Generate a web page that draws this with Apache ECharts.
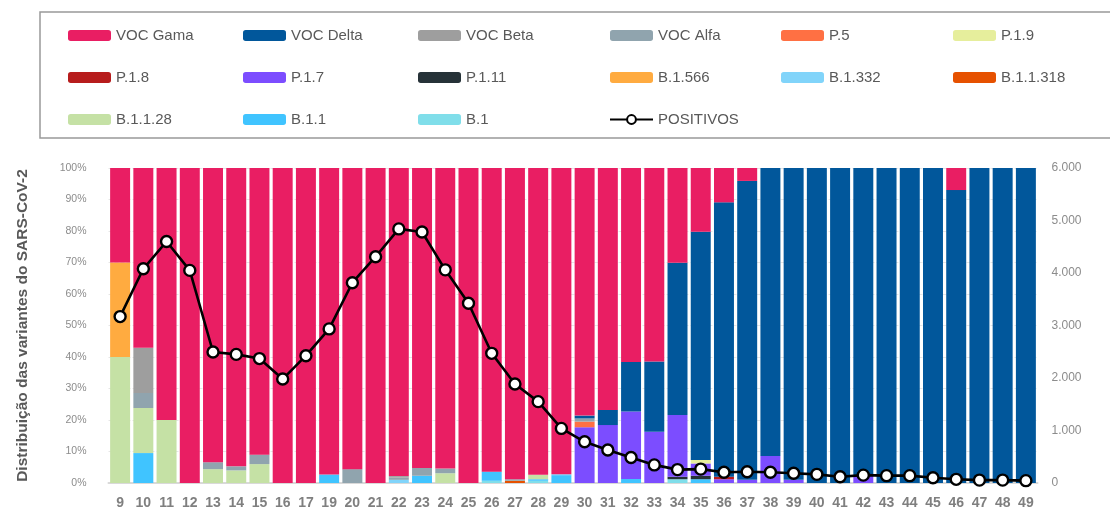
<!DOCTYPE html>
<html>
<head>
<meta charset="utf-8">
<script src="https://cdn.jsdelivr.net/npm/echarts@6/dist/echarts.min.js"></script>
<style>
  html, body { margin: 0; padding: 0; background: #fff; }
  #chart { width: 1110px; height: 513px; }
</style>
</head>
<body>
<div id="chart"></div>
<script>
// semanas epidemiológicas
var semanas = ['9','10','11','12','13','14','15','16','17','19','20','21','22','23','24','25','26','27','28','29',
  '30','31','32','33','34','35','36','37','38','39','40','41','42','43','44','45','46','47','48','49'];

// distribuição (%) por variante, uma posição por semana
var vocGama   = [30,57.1,80,100,93.4,94.7,91,100,100,97.3,95.6,100,97.8,95.2,95.4,100,96.4,98.8,97.4,97.2,
  78.6,76.8,61.6,61.4,30.1,20.2,10.9,4.1,0,0,0,0,0,0,0,0,7,0,0,0];
var vocDelta  = [0,0,0,0,0,0,0,0,0,0,0,0,0,0,0,0,0,0,0,0,
  0.9,4.8,15.7,22.3,48.3,72.5,87.1,94.9,91.4,99,100,100,97.5,100,100,100,93,100,100,100];
var vocBeta   = [0,14.3,0,0,0,0,0,0,0,0,0,0,0.5,0,0,0,0,0,0,0,
  0,0,0,0,0,0,0,0,0,0,0,0,0,0,0,0,0,0,0,0];
var vocAlfa   = [0,4.8,0,0,2.2,1.3,3,0,0,0,4.4,0,0.7,2.5,1.5,0,0,0.5,0,0,
  1,0,0,0,0,0,0,0,0,0,0,0,0,0,0,0,0,0,0,0];
var p5        = [0,0,0,0,0,0,0,0,0,0,0,0,0,0,0,0,0,0,0,0,
  1.8,0,0,0,0,0,0,0,0,0,0,0,0,0,0,0,0,0,0,0];
var p19       = [0,0,0,0,0,0,0,0,0,0,0,0,0,0,0,0,0,0,0,0,
  0,0,0,0,0,1.1,0,0,0,0,0,0,0,0,0,0,0,0,0,0];
var p18       = [0,0,0,0,0,0,0,0,0,0,0,0,0,0,0,0,0,0,0,0,
  0,0,0,0,0,0,0.8,0,0,0,0,0,0,0,0,0,0,0,0,0];
var p17       = [0,0,0,0,0,0,0,0,0,0,0,0,0,0,0,0,0,0,0,0,
  17.7,18.4,21.4,16.3,19.6,3.9,1.2,1,8.6,1,0,0,2.5,0,0,0,0,0,0,0];
var p111      = [0,0,0,0,0,0,0,0,0,0,0,0,0,0,0,0,0,0,0,0,
  0,0,0,0,0.8,1.1,0,0,0,0,0,0,0,0,0,0,0,0,0,0];
var b1566     = [30,0,0,0,0,0,0,0,0,0,0,0,0,0,0,0,0,0,0,0,
  0,0,0,0,0,0,0,0,0,0,0,0,0,0,0,0,0,0,0,0];
var b1332     = [0,0,0,0,0,0,0,0,0,0,0,0,1,0,0,0,0,0,0,0.3,
  0,0,0,0,0,0,0,0,0,0,0,0,0,0,0,0,0,0,0,0];
var b11318    = [0,0,0,0,0,0,0,0,0,0,0,0,0,0,0,0,0,0.7,0,0,
  0,0,0,0,0,0,0,0,0,0,0,0,0,0,0,0,0,0,0,0];
var b1128     = [40,14.3,20,0,4.4,4,6,0,0,0,0,0,0,0,3.1,0,0,0,1.4,0,
  0,0,0,0,0,0,0,0,0,0,0,0,0,0,0,0,0,0,0,0];
var b11       = [0,9.5,0,0,0,0,0,0,0,2.7,0,0,0,2.3,0,0,2.9,0,0.5,2.5,
  0,0,1.3,0,0,1.2,0,0,0,0,0,0,0,0,0,0,0,0,0,0];
var b1        = [0,0,0,0,0,0,0,0,0,0,0,0,0,0,0,0,0.7,0,0.7,0,
  0,0,0,0,1.2,0,0,0,0,0,0,0,0,0,0,0,0,0,0,0];

// casos positivos por semana (eixo direito)
var positivos = [3170,4080,4600,4050,2495,2450,2370,1980,2425,2935,3815,4310,4840,4780,4060,3425,2470,1885,1550,1040,
  785,630,485,345,255,265,205,215,205,185,165,120,150,140,140,100,70,55,55,45];

// ordem de empilhamento (de baixo para cima)
var variantes = [
  ['B.1', b1, '#80deea'],
  ['B.1.1', b11, '#40c4ff'],
  ['B.1.1.28', b1128, '#c5e1a5'],
  ['B.1.1.318', b11318, '#e65100'],
  ['B.1.332', b1332, '#81d4fa'],
  ['B.1.566', b1566, '#ffab40'],
  ['P.1.11', p111, '#263238'],
  ['P.1.7', p17, '#7c4dff'],
  ['P.1.8', p18, '#b71c1c'],
  ['P.1.9', p19, '#e6ee9c'],
  ['P.5', p5, '#ff7043'],
  ['VOC Alfa', vocAlfa, '#90a4ae'],
  ['VOC Beta', vocBeta, '#9e9e9e'],
  ['VOC Delta', vocDelta, '#01579b'],
  ['VOC Gama', vocGama, '#e91e63']
];

// colunas da legenda
var colunasLegenda = [
  [63, ['VOC Gama', 'P.1.8', 'B.1.1.28']],
  [238, ['VOC Delta', 'P.1.7', 'B.1.1']],
  [413, ['VOC Beta', 'P.1.11', 'B.1']],
  [604, ['VOC Alfa', 'B.1.566', 'POSITIVOS']],
  [776, ['P.5', 'B.1.332']],
  [948, ['P.1.9', 'B.1.1.318']]
];

var fonte = '"Liberation Sans", Arial, sans-serif';

var series = variantes.map(function (v) {
  return {
    name: v[0],
    type: 'bar',
    stack: 'total',
    yAxisIndex: 0,
    barCategoryGap: '14%',
    itemStyle: { color: v[2] },
    data: v[1]
  };
});
series.push({
  name: 'POSITIVOS',
  type: 'line',
  yAxisIndex: 1,
  z: 10,
  symbol: 'circle',
  symbolSize: 11,
  lineStyle: { color: '#000', width: 2.6 },
  itemStyle: { color: '#fff', borderColor: '#000', borderWidth: 2.4 },
  data: positivos
});

var legendas = colunasLegenda.map(function (c) {
  return {
    orient: 'vertical',
    left: c[0],
    top: 23,
    itemWidth: 43,
    itemHeight: 11,
    itemGap: 27,
    selectedMode: false,
    textStyle: { fontSize: 15, color: '#595959', fontFamily: fonte },
    data: c[1]
  };
});

var chart = echarts.init(document.getElementById('chart'));
chart.setOption({
  animation: false,
  backgroundColor: '#fff',
  graphic: [{
    type: 'rect',
    shape: { x: 40, y: 12, width: 1090, height: 126 },
    style: { fill: 'none', stroke: '#999', lineWidth: 1.5 },
    silent: true
  }],
  legend: legendas,
  grid: { left: 108.5, right: 72.5, top: 168, bottom: 30 },
  xAxis: {
    type: 'category',
    data: semanas,
    axisTick: { show: false },
    axisLine: { lineStyle: { color: '#d9d9d9', width: 2 } },
    axisLabel: { color: '#7f7f7f', fontWeight: 'bold', fontSize: 14, margin: 13, fontFamily: fonte, interval: 0 }
  },
  yAxis: [{
    type: 'value',
    min: 0, max: 100, interval: 10,
    name: 'Distribuição das variantes do SARS-CoV-2',
    nameLocation: 'middle',
    nameGap: 78,
    nameTextStyle: { color: '#595959', fontWeight: 'bold', fontSize: 15.5, fontFamily: fonte },
    axisLabel: { formatter: '{value}%', color: '#8c8c8c', fontSize: 10.5, margin: 22, fontFamily: fonte },
    splitLine: { lineStyle: { color: '#e6e6e6', type: 'dashed' } }
  }, {
    type: 'value',
    min: 0, max: 6000, interval: 1000,
    axisLabel: {
      color: '#8c8c8c', fontSize: 12, margin: 14, fontFamily: fonte,
      formatter: function (v) { return String(v).replace(/\B(?=(\d{3})+(?!\d))/g, '.'); }
    },
    splitLine: { show: false }
  }],
  series: series
});
</script>
</body>
</html>
